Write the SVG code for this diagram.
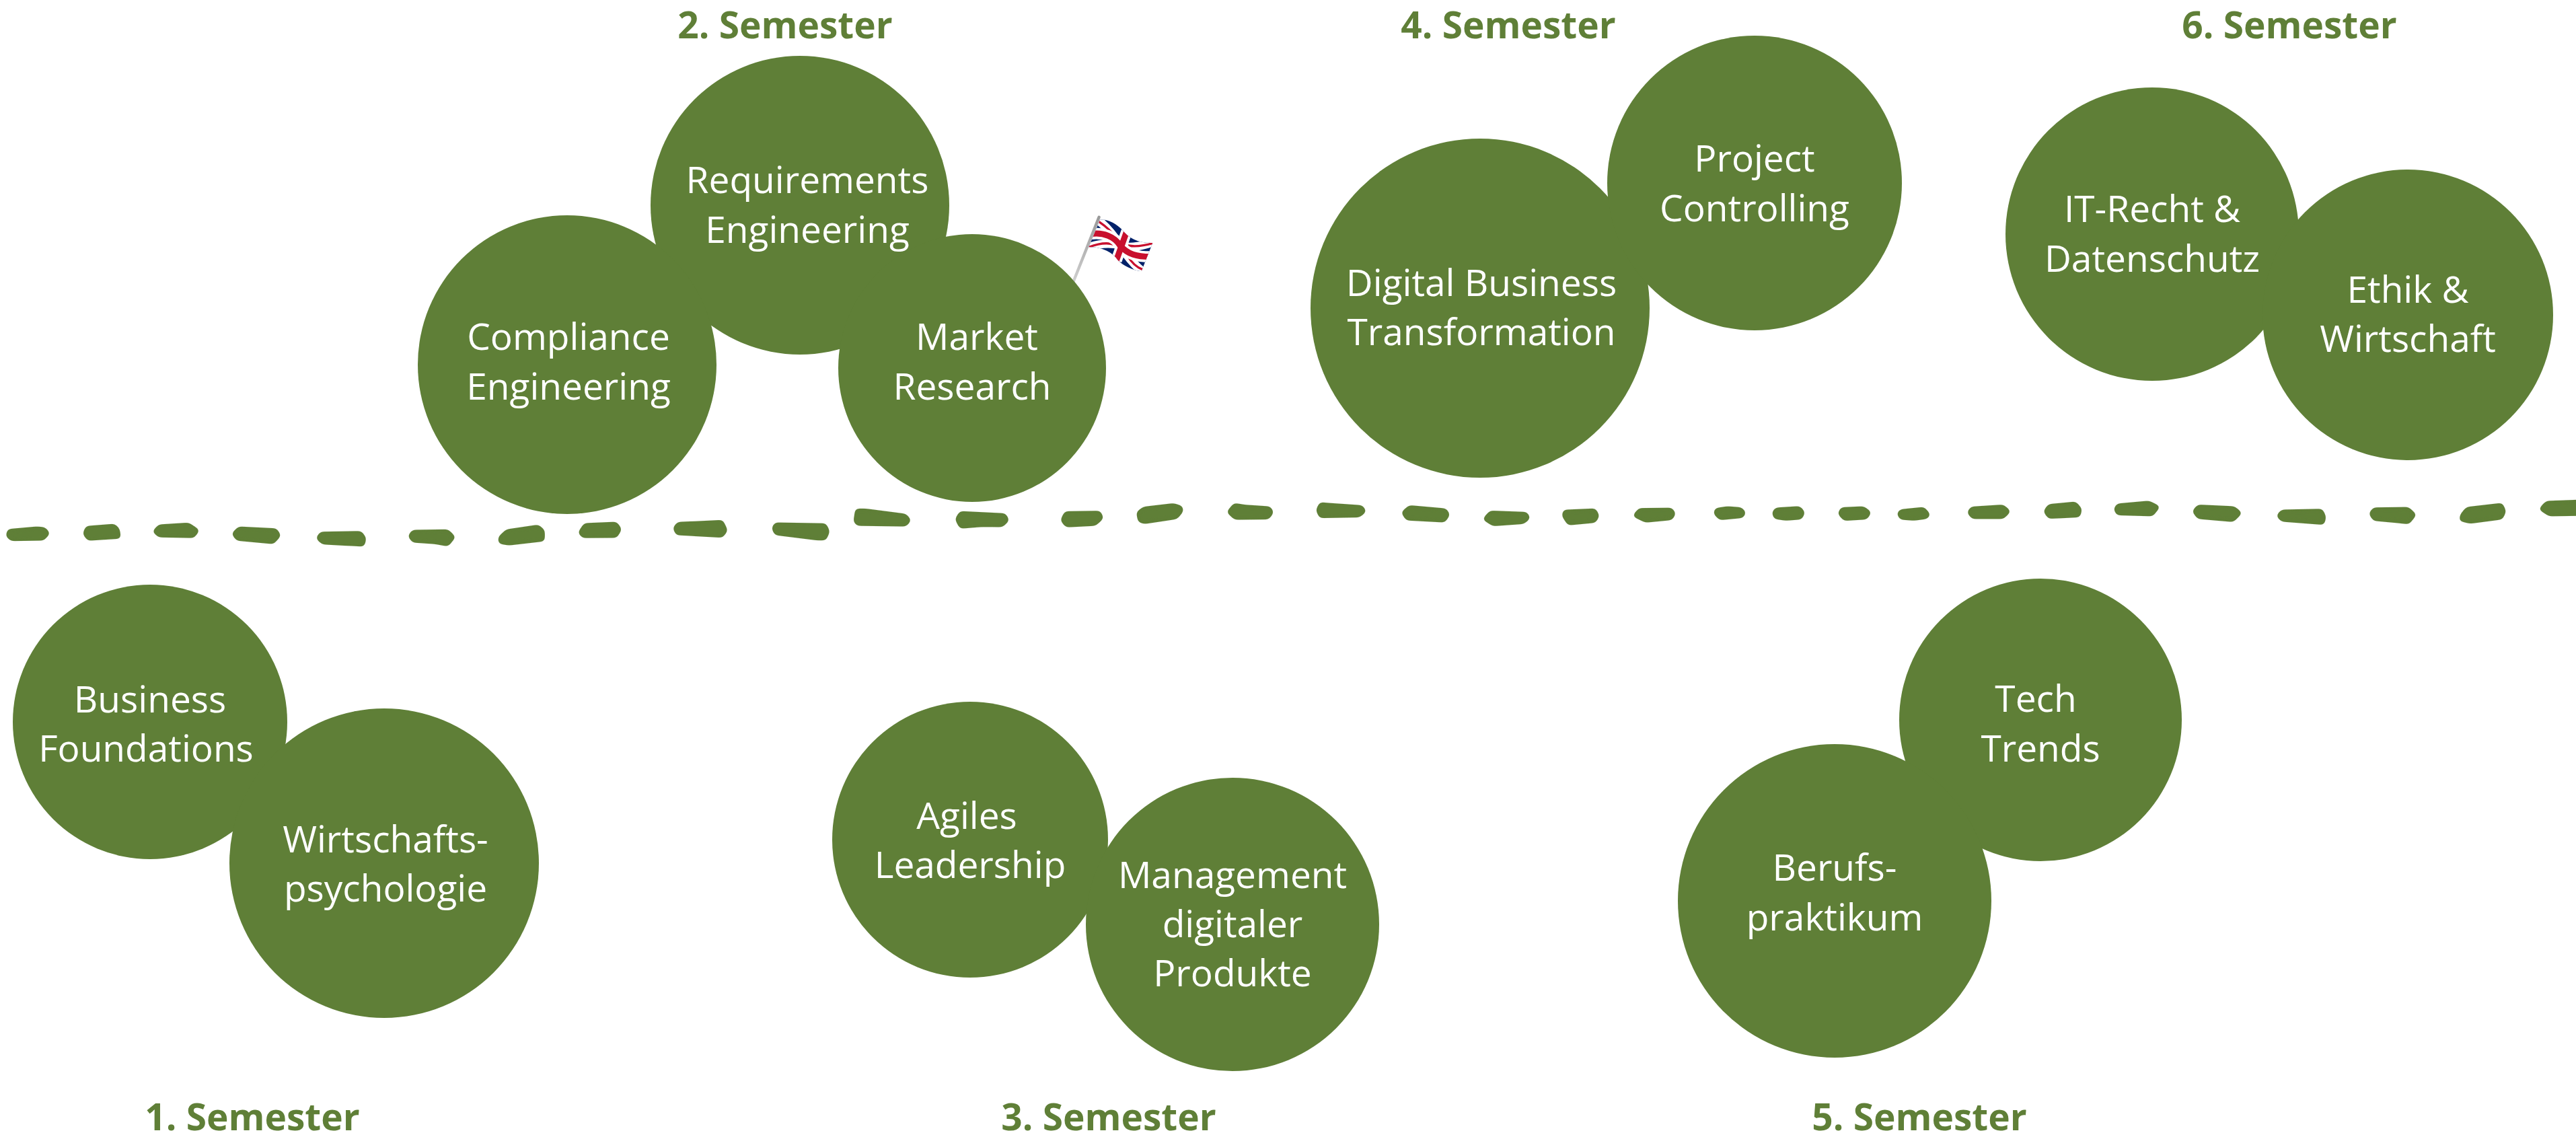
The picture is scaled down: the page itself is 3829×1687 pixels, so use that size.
<svg xmlns="http://www.w3.org/2000/svg" width="3829" height="1687" viewBox="0 0 3829 1687">
<style>
.c{fill:#5f7f37}
.t{font-family:"Open Sans","Noto Sans",sans-serif;font-size:55px;fill:#fff;text-anchor:middle}
.h{font-family:"Open Sans","Noto Sans",sans-serif;font-size:55px;font-weight:700;fill:#5f7f37;text-anchor:middle}
.d polygon{fill:#5f7f37;stroke:#5f7f37;stroke-width:3;stroke-linejoin:round;vector-effect:non-scaling-stroke}
</style>
<defs>
<linearGradient id="pole" x1="0" y1="0" x2="0" y2="1"><stop offset="0" stop-color="#999"/><stop offset="1" stop-color="#d0d0d0"/></linearGradient>
<clipPath id="fc"><path d="M255,140 C290,135 330,160 352,182 C385,225 430,245 490,243 L440,370 C400,365 360,345 335,320 C310,285 265,260 205,262 Z"/></clipPath>
<filter id="round" filterUnits="userSpaceOnUse" x="-20" y="700" width="3869" height="150" color-interpolation-filters="sRGB">
<feGaussianBlur stdDeviation="3"/>
<feComponentTransfer><feFuncA type="linear" slope="8" intercept="-3.5"/></feComponentTransfer>
</filter>
</defs>
<rect width="3829" height="1687" fill="#fff"/>
<g id="connectors" filter="url(#round)">
<g class="d" transform="translate(0,720) scale(.8291,.3333)">
<polygon points="15,203 66,192 80,195 88,218 78,246 20,248 12,230"/>
<polygon points="155,190 205,180 213,200 215,238 158,247 150,220"/>
<polygon points="285,183 338,175 356,205 347,235 285,232 275,210"/>
<polygon points="428,192 495,200 502,228 490,262 425,247 417,220"/>
<polygon points="575,215 647,212 655,240 652,273 578,263 568,240"/>
<polygon points="740,207 803,205 815,235 803,272 780,262 740,255 733,230"/>
<polygon points="908,205 965,184 975,205 975,250 912,268 895,260 895,235"/>
<polygon points="1048,177 1105,171 1113,200 1105,234 1045,235 1038,215"/>
<polygon points="1215,172 1295,163 1303,205 1295,233 1213,222 1208,195"/>
<polygon points="1390,174 1480,178 1486,210 1480,245 1465,245 1390,222 1385,195"/>
</g>
<g class="d" transform="translate(1270,720) scale(.8291,.3333)">
<polygon points="3,112 20,112 92,135 100,160 92,183 5,180 0,165"/>
<polygon points="190,123 270,133 276,160 265,186 230,185 190,193 182,155"/>
<polygon points="378,124 440,122 445,150 432,180 380,187 371,160"/>
<polygon points="518,104 572,88 587,100 588,120 578,150 520,172 510,165 507,125"/>
<polygon points="681,87 700,95 745,102 750,125 742,152 682,153 669,123"/>
<polygon points="835,84 910,97 916,120 905,143 835,146 829,115"/>
<polygon points="995,97 1060,111 1066,135 1058,165 990,156 982,125"/>
<polygon points="1140,121 1205,127 1210,150 1200,172 1145,182 1128,155"/>
<polygon points="1272,117 1328,111 1334,140 1328,167 1280,178 1270,140"/>
<polygon points="1407,110 1465,108 1471,130 1465,155 1418,166 1397,140"/>
</g>
<g class="d" transform="translate(2530,720) scale(.8284,.3333)">
<polygon points="24,110 45,102 70,106 77,125 73,145 32,155 22,130"/>
<polygon points="132,108 175,101 183,125 178,152 150,157 130,150 127,125"/>
<polygon points="250,106 290,102 302,125 295,152 255,158 245,130"/>
<polygon points="356,115 398,105 408,135 403,150 380,157 356,153 351,130"/>
<polygon points="483,103 540,94 552,120 540,150 485,150 477,125"/>
<polygon points="622,92 670,81 680,110 677,142 622,149 614,120"/>
<polygon points="745,90 802,77 820,100 808,138 745,133 740,110"/>
<polygon points="890,94 955,102 967,128 953,163 890,150 881,120"/>
<polygon points="1040,117 1112,113 1118,145 1115,176 1040,162 1032,140"/>
<polygon points="1205,107 1267,105 1280,135 1268,173 1205,158 1198,130"/>
<polygon points="1372,105 1435,87 1441,120 1435,152 1378,171 1360,160 1362,135"/>
<polygon points="1515,78 1600,70 1600,135 1520,138 1503,110"/>
</g>
</g>
<text class="h" x="1167" y="57">2. Semester</text>
<text class="h" x="2242" y="57">4. Semester</text>
<text class="h" x="3403" y="57">6. Semester</text>
<text class="h" x="375" y="1680">1. Semester</text>
<text class="h" x="1648" y="1680">3. Semester</text>
<text class="h" x="2853" y="1680">5. Semester</text>
<g id="flag" transform="translate(1550,280) scale(.3333)">
<line x1="251" y1="128" x2="135" y2="420" stroke="url(#pole)" stroke-width="13" stroke-linecap="round"/>
<g clip-path="url(#fc)" fill="none">
<rect x="190" y="120" width="320" height="270" fill="#012169" stroke="none"/>
<path d="M240,135 C290,175 320,215 345,255 C375,300 410,345 450,375" stroke="#fff" stroke-width="38"/>
<path d="M190,268 C250,245 300,240 345,255 C395,270 450,255 505,235" stroke="#fff" stroke-width="38"/>
<path d="M250,148 C290,175 310,195 330,225 M378,300 C395,330 415,350 445,362" stroke="#c8102e" stroke-width="10"/>
<path d="M205,262 C250,245 285,240 318,250 M380,255 C420,262 455,255 492,244" stroke="#c8102e" stroke-width="10"/>
<path d="M215,203 C270,195 320,215 345,255 C380,295 420,305 480,305" stroke="#fff" stroke-width="50"/>
<path d="M375,190 L328,322" stroke="#fff" stroke-width="50"/>
<path d="M215,203 C270,195 320,215 345,255 C380,295 420,305 480,305" stroke="#c8102e" stroke-width="27"/>
<path d="M375,190 L328,322" stroke="#c8102e" stroke-width="27"/>
</g>
</g>
<g id="n-req"><circle class="c" cx="1189" cy="305" r="222"/><text class="t" x="1200" y="287">Requirements</text><text class="t" x="1200" y="361">Engineering</text></g>
<g id="n-comp"><circle class="c" cx="843" cy="542" r="222"/><text class="t" x="845" y="520">Compliance</text><text class="t" x="845" y="594">Engineering</text></g>
<g id="n-market"><circle class="c" cx="1445" cy="547" r="199"/><text class="t" x="1452" y="520">Market</text><text class="t" x="1445" y="594">Research</text></g>
<g id="n-digital"><circle class="c" cx="2200" cy="458" r="252"/><text class="t" x="2202" y="440">Digital Business</text><text class="t" x="2202" y="513">Transformation</text></g>
<g id="n-project"><circle class="c" cx="2608" cy="272" r="219"/><text class="t" x="2608" y="255">Project</text><text class="t" x="2608" y="329">Controlling</text></g>
<g id="n-it"><circle class="c" cx="3199" cy="348" r="218"/><text class="t" x="3199" y="330">IT-Recht &amp;</text><text class="t" x="3199" y="404">Datenschutz</text></g>
<g id="n-ethik"><circle class="c" cx="3579" cy="468" r="216"/><text class="t" x="3579" y="450">Ethik &amp;</text><text class="t" x="3579" y="523">Wirtschaft</text></g>
<g id="n-bus"><circle class="c" cx="223" cy="1073" r="204"/><text class="t" x="223" y="1059">Business</text><text class="t" x="217" y="1132">Foundations</text></g>
<g id="n-wirt"><circle class="c" cx="571" cy="1283" r="230"/><text class="t" x="573" y="1267">Wirtschafts-</text><text class="t" x="573" y="1340">psychologie</text></g>
<g id="n-agil"><circle class="c" cx="1442" cy="1248" r="205"/><text class="t" x="1437" y="1232">Agiles</text><text class="t" x="1442" y="1305">Leadership</text></g>
<g id="n-mgmt"><circle class="c" cx="1832" cy="1374" r="218"/><text class="t" x="1832" y="1320">Management</text><text class="t" x="1832" y="1393">digitaler</text><text class="t" x="1832" y="1466">Produkte</text></g>
<g id="n-tech"><circle class="c" cx="3033" cy="1070" r="210"/><text class="t" x="3026" y="1058">Tech</text><text class="t" x="3033" y="1132">Trends</text></g>
<g id="n-ber"><circle class="c" cx="2727" cy="1339" r="233"/><text class="t" x="2727" y="1309">Berufs-</text><text class="t" x="2727" y="1383">praktikum</text></g>
</svg>
